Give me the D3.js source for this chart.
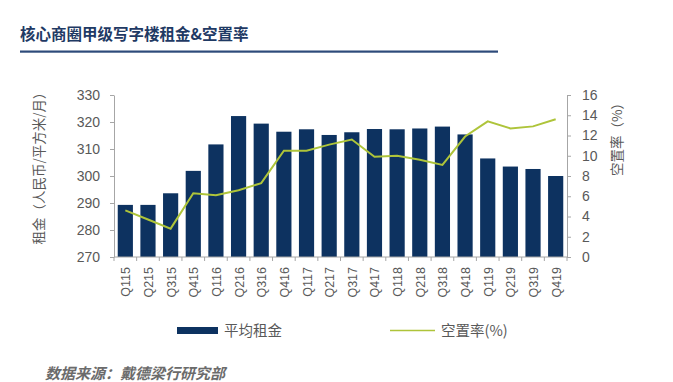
<!DOCTYPE html>
<html><head><meta charset="utf-8">
<script src="https://cdn.jsdelivr.net/npm/d3@7"></script>
<style>body{margin:0;background:#fff}svg{display:block}</style>
</head><body><svg id="c" width="673" height="382"></svg>
<script>
const categories=["Q115","Q215","Q315","Q415","Q116","Q216","Q316","Q416","Q117","Q217","Q317","Q417","Q118","Q218","Q318","Q418","Q119","Q219","Q319","Q419"];
const rent=[289.3,289.3,293.6,301.9,311.7,322.2,319.4,316.4,317.3,315.2,316.2,317.4,317.3,317.6,318.3,315.4,306.5,303.5,302.6,300];
const vacancy=[4.6,3.7,2.8,6.3,6.1,6.6,7.3,10.5,10.5,11.1,11.6,9.9,10.0,9.6,9.1,11.9,13.4,12.7,12.9,13.6];
const leftTicks=[270,280,290,300,310,320,330];
const rightTicks=[0,2,4,6,8,10,12,14,16];

const svg=d3.select("#c");
const font="'Liberation Sans','Noto Sans CJK SC',Arial,sans-serif";
const cjk="'Noto Sans CJK SC',sans-serif";
const gray="#595959", axisCol="#a6a6a6";
const L=114,R=567,T=95,B=257;

svg.append("text").attr("x",20).attr("y",40).attr("font-family",cjk).attr("font-weight","bold")
 .attr("font-size",15.5).attr("fill","#1f3a64").text("核心商圈甲级写字楼租金&空置率");
svg.append("rect").attr("x",20).attr("y",50.5).attr("width",478).attr("height",2.2).attr("fill","#2d4a7a");

const x=d3.scaleBand().domain(categories).range([L,R]).paddingInner(0.33).paddingOuter(0.165);
const yL=d3.scaleLinear().domain([270,330]).range([B,T]);
const yR=d3.scaleLinear().domain([0,16]).range([B,T]);

svg.append("g").selectAll("rect").data(rent).join("rect")
 .attr("x",(d,i)=>x(categories[i])).attr("width",x.bandwidth())
 .attr("y",d=>yL(d)).attr("height",d=>B-yL(d)).attr("fill","#0d3260");

const line=d3.line().x((d,i)=>x(categories[i])+x.bandwidth()/2).y(d=>yR(d));
svg.append("path").datum(vacancy).attr("d",line).attr("fill","none").attr("stroke","#aec43a").attr("stroke-width",2);

function styleAxis(g){g.selectAll("path,line").attr("stroke",axisCol);g.selectAll("text").attr("fill",gray).attr("font-family",font).attr("font-size",14);}
svg.append("g").attr("transform",`translate(${L},0)`).call(d3.axisLeft(yL).tickValues(leftTicks).tickSize(4).tickSizeOuter(0).tickPadding(10)).call(styleAxis);
svg.append("g").attr("transform",`translate(${R},0)`).call(d3.axisRight(yR).tickValues(rightTicks).tickSize(4).tickSizeOuter(0).tickPadding(11)).call(styleAxis);

// x axis
const xg=svg.append("g").attr("transform",`translate(0,${B})`);
xg.append("line").attr("x1",L).attr("x2",R).attr("stroke",axisCol);
const step=x.step();
xg.selectAll("line.t").data(d3.range(categories.length+1)).join("line").attr("class","t")
 .attr("x1",i=>L+i*step).attr("x2",i=>L+i*step).attr("y1",0).attr("y2",4).attr("stroke",axisCol);
xg.selectAll("text").data(categories).join("text")
 .attr("transform",d=>`translate(${x(d)+x.bandwidth()/2+5},10) rotate(-90)`)
 .attr("text-anchor","end").attr("font-family",font).attr("font-size",12.5).attr("fill",gray).text(d=>d);

svg.append("text").attr("transform","translate(44,165) rotate(-90)").attr("text-anchor","middle")
 .attr("font-family",cjk).attr("font-size",13.5).attr("fill",gray).text("租金（人民币/平方米/月）");
svg.append("text").attr("transform","translate(622,136) rotate(-90)").attr("text-anchor","middle")
 .attr("font-family",cjk).attr("font-size",13.5).attr("fill",gray).text("空置率（%）");

// legend
svg.append("rect").attr("x",177).attr("y",327).attr("width",41).attr("height",7).attr("fill","#0d3260");
svg.append("text").attr("x",224).attr("y",336).attr("font-family",cjk).attr("font-size",14.5).attr("fill",gray).text("平均租金");
svg.append("line").attr("x1",390).attr("x2",435).attr("y1",330.5).attr("y2",330.5).attr("stroke","#aec43a").attr("stroke-width",1.5);
svg.append("text").attr("x",441).attr("y",336).attr("font-family",cjk).attr("font-size",14.5).attr("fill",gray).text("空置率(%)");

svg.append("text").attr("x",45).attr("y",379).attr("font-family",cjk).attr("font-size",15).attr("font-style","italic").attr("font-weight","bold")
 .attr("fill","#6b6b6b").text("数据来源：戴德梁行研究部");
</script></body></html>
